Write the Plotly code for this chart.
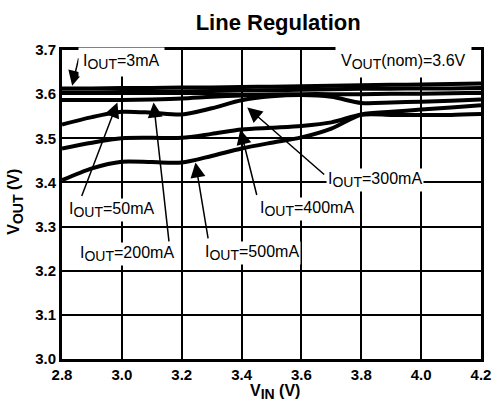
import plotly.graph_objects as go

# ---- data ----
VIN = [2.8, 2.9, 3.0, 3.1, 3.2, 3.3, 3.4, 3.5, 3.6, 3.7, 3.8, 3.9, 4.0, 4.1, 4.2]
VOUT_3mA = [3.613, 3.613, 3.614, 3.614, 3.615, 3.615, 3.616, 3.617, 3.618, 3.619, 3.620, 3.621, 3.622, 3.623, 3.624]
VOUT_50mA = [3.604, 3.604, 3.605, 3.605, 3.606, 3.607, 3.608, 3.609, 3.610, 3.611, 3.612, 3.612, 3.613, 3.613, 3.614]
VOUT_200mA = [3.587, 3.587, 3.587, 3.588, 3.590, 3.594, 3.597, 3.599, 3.600, 3.600, 3.600, 3.601, 3.601, 3.602, 3.603]
VOUT_300mA = [3.531, 3.548, 3.560, 3.558, 3.554, 3.568, 3.586, 3.595, 3.598, 3.594, 3.580, 3.581, 3.583, 3.585, 3.588]
VOUT_400mA = [3.477, 3.490, 3.500, 3.501, 3.501, 3.510, 3.520, 3.524, 3.528, 3.536, 3.554, 3.560, 3.565, 3.570, 3.575]
VOUT_500mA = [3.405, 3.432, 3.447, 3.446, 3.445, 3.460, 3.477, 3.490, 3.502, 3.522, 3.553, 3.553, 3.553, 3.553, 3.555]

SERIES = {
    "3mA": VOUT_3mA,
    "50mA": VOUT_50mA,
    "200mA": VOUT_200mA,
    "300mA": VOUT_300mA,
    "400mA": VOUT_400mA,
    "500mA": VOUT_500mA,
}

SUB = "<sub><span style='font-size:14px'>{}</span></sub>"

# label text, text position (x, y), arrow tail (x, y), arrow head (x, y)
LABELS = [
    ("I" + SUB.format("OUT") + "=3mA", (3.000, 3.672), (2.857, 3.685), (2.834, 3.619)),
    ("I" + SUB.format("OUT") + "=50mA", (2.965, 3.338), (2.864, 3.366), (2.985, 3.581)),
    ("I" + SUB.format("OUT") + "=200mA", (3.017, 3.238), (3.158, 3.263), (3.106, 3.581)),
    ("I" + SUB.format("OUT") + "=500mA", (3.436, 3.241), (3.289, 3.270), (3.246, 3.445)),
    ("I" + SUB.format("OUT") + "=400mA", (3.619, 3.340), (3.452, 3.368), (3.396, 3.520)),
    ("I" + SUB.format("OUT") + "=300mA", (3.847, 3.406), (3.681, 3.415), (3.419, 3.570)),
]
NOTE = ("V" + SUB.format("OUT") + "(nom)=3.6V", (3.942, 3.672))

FONT = "Liberation Sans, Arial, sans-serif"

fig = go.Figure()
for name, vals in SERIES.items():
    fig.add_trace(go.Scatter(
        x=VIN, y=vals, mode="lines", name=name,
        line=dict(color="black", width=4, shape="spline", smoothing=0.8),
        showlegend=False, hoverinfo="skip",
    ))

annotations = []
for text, (tx, ty), (ax, ay), (hx, hy) in LABELS:
    annotations.append(dict(
        x=hx, y=hy, ax=ax, ay=ay, xref="x", yref="y", axref="x", ayref="y",
        text="", showarrow=True, arrowhead=2, arrowsize=2.0, arrowwidth=1.5,
        arrowcolor="black", standoff=0, startstandoff=0,
    ))
    annotations.append(dict(
        x=tx, y=ty, xref="x", yref="y", text=text, showarrow=False,
        xanchor="center", yanchor="middle",
        font=dict(family=FONT, size=16, color="black"),
        bgcolor="white", borderpad=4 if ty > 3.6 else 1,
    ))
annotations.append(dict(
    x=NOTE[1][0], y=NOTE[1][1], xref="x", yref="y", text=NOTE[0], showarrow=False,
    xanchor="center", yanchor="middle",
    font=dict(family=FONT, size=16, color="black"), bgcolor="white", borderpad=5,
))
annotations.append(dict(
    x=-0.112, y=0.509, xref="paper", yref="paper",
    text="<b>V<sub><span style='font-size:14px'>OUT</span></sub> (V)</b>",
    textangle=-90, showarrow=False, xanchor="center", yanchor="middle",
    font=dict(family=FONT, size=16, color="black"),
))
annotations.append(dict(
    x=0.508, y=-0.106, xref="paper", yref="paper",
    text="<b>V<sub><span style='font-size:14px'>IN</span></sub> (V)</b>",
    showarrow=False, xanchor="center", yanchor="middle",
    font=dict(family=FONT, size=16, color="black"),
))

axis_common = dict(
    showgrid=True, gridcolor="black", gridwidth=2,
    showline=True, linecolor="black", linewidth=3, mirror=True,
    zeroline=False, ticks="",
    tickfont=dict(family=FONT, size=15, color="black", weight="bold"),
    tickformat=".1f",
)

fig.update_layout(
    width=503, height=404,
    margin=dict(l=62, r=12, t=50, b=45),
    paper_bgcolor="white", plot_bgcolor="white",
    title=dict(text="<b>Line Regulation</b>", x=0.553, xanchor="center", y=0.946, yanchor="middle",
               font=dict(family=FONT, size=22, color="black")),
    xaxis=dict(range=[2.8, 4.2], dtick=0.2, tick0=2.8, **axis_common),
    yaxis=dict(range=[3.0, 3.7], dtick=0.1, tick0=3.0, **axis_common),
    annotations=annotations,
)

fig.write_html("out.html", config={"displayModeBar": False},
               post_script="document.body.style.margin='0px';")
